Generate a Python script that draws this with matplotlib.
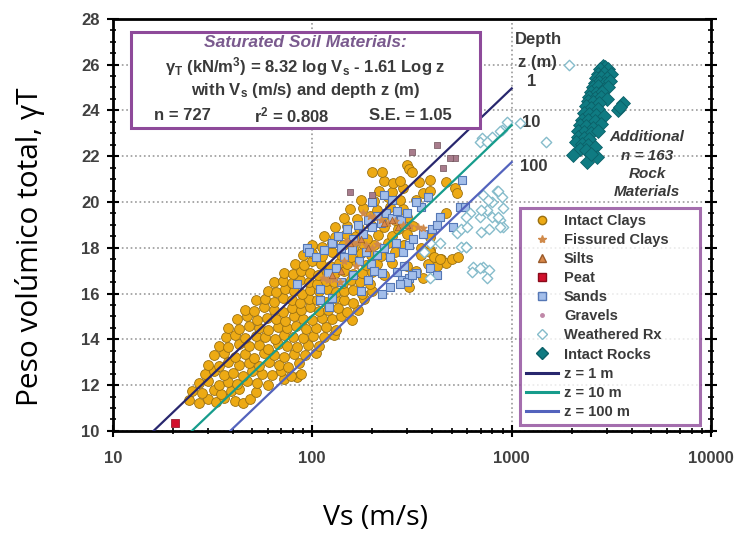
import numpy as np
import matplotlib
matplotlib.use("Agg")
import matplotlib.pyplot as plt
from matplotlib.lines import Line2D
from matplotlib.patches import Rectangle
from matplotlib.ticker import MultipleLocator, LogLocator, NullFormatter, FixedLocator

plt.rcParams['font.family'] = ['Liberation Sans', 'DejaVu Sans']
plt.rcParams['font.weight'] = 'bold'
plt.rcParams['mathtext.fontset'] = 'custom'
plt.rcParams['mathtext.rm'] = 'Liberation Sans:bold'
plt.rcParams['mathtext.it'] = 'Liberation Sans:bold:italic'
plt.rcParams['mathtext.default'] = 'rm'

# intact clays (Vs m/s, unit weight kN/m3)
clay_vs = [24, 27, 30, 33, 36, 41, 45, 49,
           25, 28, 32, 35, 39, 43, 52,
           27, 30, 34, 38, 42, 47, 53, 60, 72, 84,
           29, 32, 36, 40, 45, 50, 56, 63, 70, 78, 88,
           30, 34, 38, 43, 48, 54, 61, 68, 76, 86,
           32, 36, 41, 46, 51, 57, 64, 72, 81, 92, 104,
           34, 38, 43, 48, 54, 60, 67, 75, 84, 95, 108,
           37, 41, 46, 52, 58, 65, 72, 80, 90, 101, 114, 128,
           38, 43, 48, 54, 60, 67, 75, 83, 93, 104, 117, 132,
           42, 47, 53, 59, 66, 73, 81, 90, 100, 112, 125, 140, 158,
           46, 51, 57, 64, 71, 79, 88, 97, 108, 120, 134, 150, 170,
           52, 58, 64, 71, 79, 87, 96, 106, 117, 130, 144, 160, 182,
           60, 66, 73, 81, 89, 98, 108, 119, 131, 145, 160, 178, 200,
           64, 71, 79, 87, 96, 106, 117, 129, 142, 157, 174, 195,
           72, 80, 88, 97, 107, 118, 130, 144, 160, 178, 200, 230,
           82, 91, 100, 111, 123, 136, 150, 166, 185, 210, 250, 300, 440,
           90, 100, 112, 125, 140, 156, 175, 196, 220, 260, 390, 470,
           100, 112, 126, 142, 160, 180, 205, 240, 290, 350,
           115, 130, 147, 166, 188, 214, 250, 300, 390,
           130, 150, 172, 198, 230, 270, 320,
           145, 168, 195, 225, 260, 300, 470,
           155, 180, 210, 245, 285, 333,
           175, 205, 240, 275, 358, 388,
           215, 250, 285, 470, 518, 530,
           230, 253, 274, 343, 388,
           199, 225, 300, 307, 318,
           290, 307, 350, 420, 330, 360, 380, 388, 410, 500, 540, 437]
clay_g = [11.35, 11.2, 11.4, 11.25, 11.45, 11.3, 11.2, 11.4,
          11.75, 11.65, 11.8, 11.6, 11.75, 11.85, 11.7,
          12.1, 12.2, 12.0, 12.15, 12.05, 12.2, 12.1, 12.0, 12.25, 12.35,
          12.5, 12.6, 12.45, 12.55, 12.4, 12.6, 12.5, 12.45, 12.6, 12.4, 12.5,
          12.9, 12.85, 13.0, 12.9, 12.95, 12.85, 13.0, 12.9, 12.8, 12.95,
          13.3, 13.4, 13.25, 13.35, 13.2, 13.4, 13.3, 13.25, 13.35, 13.3, 13.4,
          13.7, 13.65, 13.8, 13.7, 13.75, 13.6, 13.8, 13.7, 13.65, 13.75, 13.7,
          14.1, 14.2, 14.05, 14.15, 14.1, 14.0, 14.2, 14.1, 14.05, 14.15, 14.1, 14.2,
          14.5, 14.45, 14.6, 14.5, 14.4, 14.55, 14.5, 14.6, 14.45, 14.5, 14.55, 14.4,
          14.9, 15.0, 14.85, 14.95, 14.9, 14.8, 15.0, 14.9, 14.85, 14.95, 14.9, 15.0, 14.85,
          15.3, 15.25, 15.4, 15.3, 15.2, 15.35, 15.3, 15.4, 15.25, 15.3, 15.35, 15.2, 15.3,
          15.7, 15.75, 15.65, 15.8, 15.7, 15.6, 15.75, 15.7, 15.65, 15.8, 15.7, 15.6, 15.75,
          16.1, 16.05, 16.2, 16.1, 16.0, 16.15, 16.1, 16.2, 16.05, 16.1, 16.15, 16.0, 16.1,
          16.5, 16.55, 16.45, 16.6, 16.5, 16.4, 16.55, 16.5, 16.45, 16.6, 16.5, 16.4,
          16.9, 16.85, 17.0, 16.9, 16.8, 16.95, 16.9, 17.0, 16.85, 16.9, 16.95, 16.8,
          17.3, 17.25, 17.4, 17.3, 17.2, 17.35, 17.3, 17.4, 17.25, 17.3, 17.35, 17.2, 17.5,
          17.7, 17.75, 17.65, 17.8, 17.7, 17.6, 17.75, 17.7, 17.65, 17.8, 17.9, 17.35,
          18.1, 18.05, 18.2, 18.1, 18.0, 18.15, 18.1, 18.2, 18.1, 18.0,
          18.5, 18.45, 18.6, 18.5, 18.4, 18.55, 18.5, 18.6, 18.45,
          18.9, 18.95, 18.85, 19.0, 18.9, 18.8, 18.95,
          19.3, 19.25, 19.4, 19.3, 19.2, 19.35, 19.5,
          19.7, 19.75, 19.65, 19.8, 19.7, 20.1,
          20.1, 20.05, 20.2, 20.1, 20.4, 20.5,
          20.5, 20.45, 20.6, 20.85, 20.6, 20.4,
          20.9, 20.84, 20.9, 20.85, 20.97,
          21.3, 21.3, 21.6, 21.45, 21.3,
          18.1, 16.3, 17.7, 17.2, 17.0, 16.7, 17.3, 17.8, 17.6, 17.5, 17.6, 17.5]

fiss_vs = [113, 120, 128, 137, 150, 160, 170, 185, 200, 210, 180, 195, 205, 220,
           240, 260, 285, 310, 340, 360, 145, 165]
fiss_g = [16.7, 16.6, 16.65, 16.5, 18.3, 18.2, 18.25, 18.1, 18.0, 18.15, 19.5, 19.4,
          19.35, 19.2, 19.1, 19.15, 19.0, 18.95, 18.9, 18.85, 17.4, 17.2]

silt_vs = [155, 175, 190, 230, 250, 270, 300, 125, 140]
silt_g = [18.2, 18.4, 18.0, 19.1, 19.2, 18.9, 19.0, 16.8, 17.0]

peat_vs = [20.5]
peat_g = [10.35]

sand_vs = [94, 96, 105, 115, 125, 135, 140, 150, 160, 170, 180, 190, 200, 210, 220, 235,
           250, 265, 280, 300, 145, 158, 172, 185, 198, 212, 228, 245, 262, 285, 305, 320,
           120, 132, 110, 125, 109, 122, 84, 140, 160, 175, 190, 205, 225, 265, 281, 307,
           333, 290, 298, 245, 224, 318, 274, 400, 437, 506, 550, 580, 561, 350, 380, 330,
           420, 360, 200, 230, 250, 390, 420]
sand_g = [18.0, 17.8, 17.6, 17.9, 18.2, 18.5, 18.0, 18.8, 18.4, 19.0, 18.6, 19.2, 18.9,
          19.4, 19.1, 19.5, 19.3, 19.6, 19.2, 19.5, 17.6, 17.9, 17.4, 17.8, 17.3, 17.7,
          18.0, 17.6, 18.2, 17.8, 18.1, 18.4, 16.9, 17.1, 16.2, 15.8, 15.7, 15.4, 16.4,
          16.5, 16.8, 16.1, 16.6, 17.0, 16.9, 16.95, 16.6, 16.7, 16.9, 17.2, 16.5, 16.3,
          16.0, 16.8, 16.4, 18.8, 19.35, 18.9, 19.8, 19.8, 20.97, 19.8, 20.2, 20.0, 19.0,
          18.6, 20.0, 20.3, 20.1, 17.1, 16.8]

grav_vs = [421, 318, 518, 490, 450, 154, 200]
grav_g = [22.5, 22.2, 21.9, 21.9, 21.5, 20.45, 20.3]

wrx_vs = [708, 800, 890, 950, 1100, 1480, 1940, 690, 750, 870, 716, 840, 890, 900, 750,
          800, 870, 900, 690, 620, 590, 640, 716, 770, 750, 530, 560, 590, 600, 700, 850,
          870, 770, 700, 630, 690, 388, 850, 800, 760, 437, 388, 364, 560, 590]
wrx_g = [22.8, 22.85, 23.15, 23.5, 23.45, 22.6, 26.0, 22.6, 22.6, 23.1, 20.3, 20.5, 20.2,
         19.75, 19.66, 19.35, 19.2, 18.9, 19.35, 19.5, 18.04, 17.17, 17.17, 17.04, 16.7,
         18.65, 18.8, 19.35, 18.9, 19.66, 19.35, 18.9, 18.8, 18.7, 16.95, 17.1, 16.7,
         20.5, 20.0, 20.1, 18.2, 18.2, 17.8, 18.05, 18.05]

rock_vs = [2860, 2950, 2780, 3050, 2700, 2900, 3150, 2650, 2800, 3000, 2600, 2750, 2950,
           3100, 2550, 2700, 2900, 3050, 2500, 2650, 2850, 2450, 2600, 2800, 3000, 2400,
           2550, 2750, 3600, 3400, 3500, 2350, 2500, 2700, 2300, 2450, 2650, 2900, 2250,
           2400, 2600, 2800, 2200, 2350, 2550, 2150, 2300, 2500, 2700, 2150, 2300, 2450,
           2100, 2250, 2400, 2600, 2200, 2350, 2020, 2680, 2380, 2500]
rock_g = [25.95, 25.9, 25.8, 25.8, 25.6, 25.65, 25.6, 25.4, 25.45, 25.4, 25.2, 25.25, 25.2,
          25.3, 25.0, 25.05, 24.95, 25.0, 24.8, 24.75, 24.8, 24.6, 24.55, 24.6, 24.5, 24.4,
          24.35, 24.3, 24.3, 24.0, 24.15, 24.2, 24.1, 24.05, 23.9, 23.85, 23.8, 23.75, 23.6,
          23.6, 23.55, 23.4, 23.35, 23.3, 23.25, 23.1, 23.05, 23.0, 23.1, 22.85, 22.8, 22.75,
          22.6, 22.55, 22.5, 22.4, 22.3, 22.25, 22.06, 21.97, 21.75, 22.1]

# regression lines for z = 1, 10, 100 m (end points)
line_vs = [16.0, 1000]
line_z1 = [10.0, 24.96]
line_vs10 = [24.9, 1000]
line_z10 = [10.0, 23.35]
line_vs100 = [38.8, 1000]
line_z100 = [10.0, 21.74]

purple = '#8E4A9A'
txt = '#3A3A3A'

fig = plt.figure(figsize=(7.37, 5.36), dpi=100)
ax = fig.add_axes([0.153, 0.196, 0.812, 0.769])

ax.plot(line_vs, line_z1, color='#28276E', lw=1.6, zorder=5)
ax.plot(line_vs10, line_z10, color='#169C8C', lw=1.6, zorder=5)
ax.plot(line_vs100, line_z100, color='#5363BD', lw=1.6, zorder=5)

ax.scatter(clay_vs, clay_g, s=50, marker='o', facecolor='#EDAA14', edgecolor='#9A7012', lw=0.6, zorder=3)
ax.scatter(sand_vs, sand_g, s=32, marker='s', facecolor='#A3BEEA', edgecolor='#5577B5', lw=0.8, zorder=4)
ax.scatter(fiss_vs, fiss_g, s=26, marker='*', color='#D08A4A', zorder=4)
ax.scatter(silt_vs, silt_g, s=22, marker='^', facecolor='#D9884A', edgecolor='#9A5A2A', lw=0.5, zorder=4)
ax.scatter(peat_vs, peat_g, s=40, marker='s', facecolor='#D2102C', edgecolor='#8A0A1A', lw=0.5, zorder=4)
ax.scatter(grav_vs, grav_g, s=16, marker='s', facecolor='#A87C8C', edgecolor='#6E5058', lw=0.5, zorder=4)
ax.scatter(wrx_vs, wrx_g, s=28, marker='D', facecolor='white', edgecolor='#86BCCB', lw=1.0, zorder=4)
ax.scatter(rock_vs, rock_g, s=50, marker='D', facecolor='#0F7B82', edgecolor='#0B6068', lw=0.6, zorder=4)

ax.set_xscale('log')
ax.set_xlim(10, 10000)
ax.set_ylim(10, 28)
ax.set_yticks(np.arange(10, 29, 2))
ax.yaxis.set_minor_locator(MultipleLocator(0.5))
ax.xaxis.set_major_locator(FixedLocator([10, 100, 1000, 10000]))
ax.xaxis.set_minor_locator(LogLocator(base=10, subs=np.arange(2, 10)))
ax.xaxis.set_minor_formatter(NullFormatter())
ax.set_xticklabels(['10', '100', '1000', '10000'])
ax.tick_params(axis='both', which='major', direction='inout', length=9, width=1.5,
               labelsize=12, labelcolor='#404040', right=True)
ax.tick_params(axis='x', which='major', pad=10)
ax.tick_params(axis='y', which='major', pad=5)
ax.tick_params(axis='both', which='minor', direction='inout', length=5, width=1.2, right=True)
for lab in ax.get_xticklabels() + ax.get_yticklabels():
    lab.set_fontweight('bold')
for sp in ax.spines.values():
    sp.set_linewidth(2)
ax.grid(True, which='major', linestyle=':', color='#9A9A9A', lw=1.2)

# equation box
ax.add_patch(Rectangle((0.030, 0.735), 0.584, 0.233, transform=ax.transAxes,
                       facecolor='white', edgecolor=purple, lw=2.2, zorder=6))
ax.text(0.322, 0.942, 'Saturated Soil Materials:', transform=ax.transAxes, ha='center', va='center',
        fontsize=12.5, style='italic', color='#7A5A8E', zorder=7)
ax.text(0.322, 0.883, r'$\gamma_T$ (kN/m$^3$) = 8.32 log V$_s$ - 1.61 Log z', transform=ax.transAxes,
        ha='center', va='center', fontsize=12, color=txt, zorder=7)
ax.text(0.322, 0.826, r'with V$_s$ (m/s) and depth z (m)', transform=ax.transAxes,
        ha='center', va='center', fontsize=12, color=txt, zorder=7)
ax.text(0.117, 0.765, 'n = 727', transform=ax.transAxes, ha='center', va='center',
        fontsize=12, color=txt, zorder=7)
ax.text(0.30, 0.765, r'r$^2$ = 0.808', transform=ax.transAxes, ha='center', va='center',
        fontsize=12, color=txt, zorder=7)
ax.text(0.497, 0.765, 'S.E. = 1.05', transform=ax.transAxes, ha='center', va='center',
        fontsize=12, color=txt, zorder=7)

# depth labels
ax.text(0.712, 0.949, 'Depth', transform=ax.transAxes, ha='center', va='center', fontsize=12, color=txt)
ax.text(0.709, 0.893, 'z (m)', transform=ax.transAxes, ha='center', va='center', fontsize=12, color=txt)
ax.text(0.70, 0.847, '1', transform=ax.transAxes, ha='center', va='center', fontsize=12, color=txt)
ax.text(0.70, 0.748, '10', transform=ax.transAxes, ha='center', va='center', fontsize=12, color=txt)
ax.text(0.703, 0.641, '100', transform=ax.transAxes, ha='center', va='center', fontsize=12, color=txt)

ax.text(0.893, 0.646, 'Additional\nn = 163\nRock\nMaterials', transform=ax.transAxes,
        ha='center', va='center', fontsize=11, style='italic', color=txt, linespacing=1.38)

handles = [
    Line2D([], [], ls='', marker='o', ms=6, mfc='#EDAA14', mec='#9A7012'),
    Line2D([], [], ls='', marker='*', ms=6, color='#D08A4A'),
    Line2D([], [], ls='', marker='^', ms=6, mfc='#D9884A', mec='#9A5A2A'),
    Line2D([], [], ls='', marker='s', ms=6, mfc='#D2102C', mec='#8A0A1A'),
    Line2D([], [], ls='', marker='s', ms=5.5, mfc='#A3BEEA', mec='#5577B5'),
    Line2D([], [], ls='', marker='.', ms=5, color='#C088A8'),
    Line2D([], [], ls='', marker='D', ms=5.5, mfc='white', mec='#86BCCB'),
    Line2D([], [], ls='', marker='D', ms=6, mfc='#0F7B82', mec='#0B6068'),
    Line2D([], [], color='#28276E', lw=2.2),
    Line2D([], [], color='#169C8C', lw=2.2),
    Line2D([], [], color='#5363BD', lw=2.2),
]
labels = ['Intact Clays', 'Fissured Clays', 'Silts', 'Peat', 'Sands', 'Gravels',
          'Weathered Rx', 'Intact Rocks', 'z = 1 m', 'z = 10 m', 'z = 100 m']
leg = ax.legend(handles, labels, loc='upper left', bbox_to_anchor=(0.681, 0.017, 0.301, 0.524),
                mode='expand', fontsize=10.5, frameon=True, fancybox=False, handlelength=2.2,
                handletextpad=0.4, labelspacing=0.35, borderpad=0.4, borderaxespad=0)
leg.get_frame().set_edgecolor(purple)
leg.get_frame().set_linewidth(2.2)
for t in leg.get_texts():
    t.set_color(txt)
    t.set_fontweight('bold')

fig.text(0.509, 0.034, 'Vs (m/s)', ha='center', va='center', fontsize=20.5,
         family='Open Sans', weight='normal', color='black')
fig.text(0.041, 0.54, 'Peso volúmico total, γT', ha='center', va='center', rotation=90,
         fontsize=21.5, family='Open Sans', weight='normal', color='black')

fig.savefig('out.png', dpi=100)
